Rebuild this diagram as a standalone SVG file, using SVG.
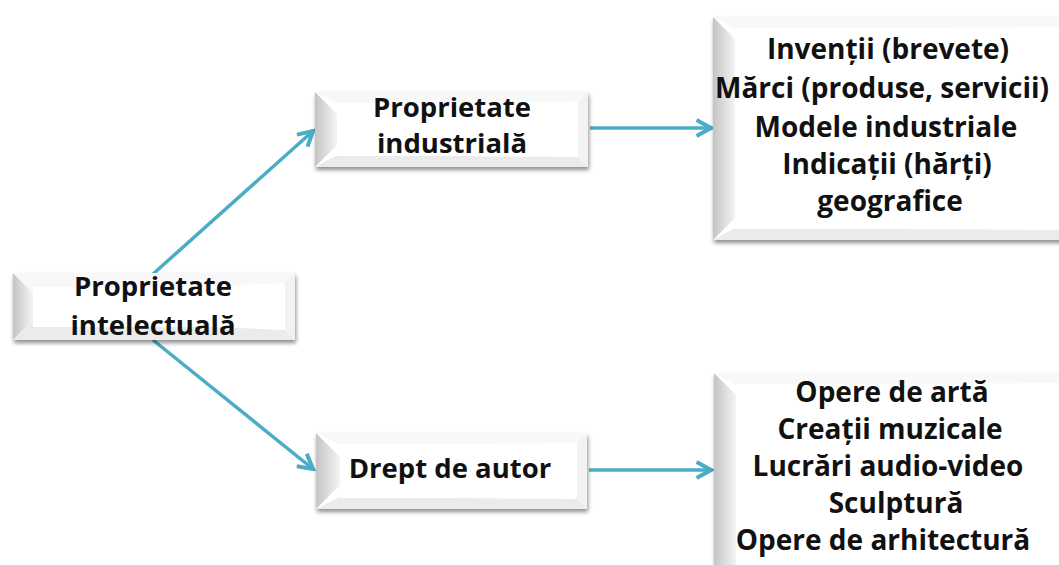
<svg xmlns="http://www.w3.org/2000/svg" width="1059" height="565" viewBox="0 0 1059 565">
<defs>
<style>
.t{font-family:"Open Sans","Noto Sans","Liberation Sans",sans-serif;font-weight:bold;font-size:27.5px;fill:#111;text-anchor:middle}
.l{font-size:28px}
.c{stroke:#4BACC6;stroke-width:3.5;fill:none}
.face{fill:#fff}
.bl{fill:url(#gl)}
.bt{fill:#f8f8f8}
.br{fill:#f2f2f2}
.bb{fill:#ebebeb}
</style>
<linearGradient id="gl" x1="0" y1="0" x2="1" y2="0">
<stop offset="0" stop-color="#c4c4c4"/>
<stop offset="1" stop-color="#f4f4f4"/>
</linearGradient>
<filter id="sh" x="-10%" y="-10%" width="120%" height="130%">
<feGaussianBlur in="SourceAlpha" stdDeviation="2"/>
<feOffset dx="1" dy="3" result="b"/>
<feComponentTransfer><feFuncA type="linear" slope="0.45"/></feComponentTransfer>
<feMerge><feMergeNode/><feMergeNode in="SourceGraphic"/></feMerge>
</filter>
<marker id="ah" viewBox="0 0 12 12" refX="10" refY="6" markerWidth="5.5" markerHeight="5.5" orient="auto" markerUnits="strokeWidth">
<path d="M1,1 L10,6 L1,11" fill="none" stroke="#4BACC6" stroke-width="2.5" stroke-linejoin="miter"/>
</marker>
</defs>
<rect width="1059" height="565" fill="#fff"/>
<g id="connectors">
<line class="c" x1="153" y1="274" x2="313" y2="131" marker-end="url(#ah)"/>
<line class="c" x1="153" y1="340" x2="313" y2="469" marker-end="url(#ah)"/>
<line class="c" x1="590" y1="128" x2="711" y2="128" marker-end="url(#ah)"/>
<line class="c" x1="589" y1="470" x2="711" y2="470" marker-end="url(#ah)"/>
</g>
<g id="n_intelectuala">
<g filter="url(#sh)">
<rect class="face" x="13" y="273" width="282" height="67"/>
</g>
<polygon class="bl" points="13,273 33,293 33,320 13,340"/>
<polygon class="bt" points="13,273 295,273 285,283 33,293"/>
<polygon class="br" points="295,273 295,340 285,330 285,283"/>
<polygon class="bb" points="13,340 295,340 285,330 33,320"/>
<rect class="face" x="33" y="287" width="252" height="40"/>
<text class="t" x="153" y="296">Proprietate</text>
<text class="t" x="153" y="335">intelectuală</text>
</g>
<g id="n_industriala">
<g filter="url(#sh)">
<rect class="face" x="315" y="92" width="273" height="75"/>
</g>
<polygon class="bl" points="315,92 337,114 337,145 315,167"/>
<polygon class="bt" points="315,92 588,92 578,102 337,104"/>
<polygon class="br" points="588,92 588,167 578,157 578,102"/>
<polygon class="bb" points="315,167 588,167 578,157 337,155"/>
<rect class="face" x="337" y="103" width="241" height="53"/>
<text class="t" x="452" y="117">Proprietate</text>
<text class="t" x="452" y="153">industrială</text>
</g>
<g id="n_drept">
<g filter="url(#sh)">
<rect class="face" x="316" y="433" width="271" height="76"/>
</g>
<polygon class="bl" points="316,433 340,457 340,485 316,509"/>
<polygon class="bt" points="316,433 587,433 577,443 340,445"/>
<polygon class="br" points="587,433 587,509 577,499 577,443"/>
<polygon class="bb" points="316,509 587,509 577,499 340,497"/>
<rect class="face" x="340" y="444" width="237" height="54"/>
<text class="t" x="450" y="478">Drept de autor</text>
</g>
<g id="n_industriala_list">
<g filter="url(#sh)">
<rect class="face" x="713" y="17" width="360" height="223"/>
</g>
<polygon class="bl" points="713,17 735,39 735,218 713,240"/>
<polygon class="bt" points="713,17 1073,17 1063,27 735,29"/>
<polygon class="bb" points="713,240 1073,240 1063,230 735,228"/>
<rect class="face" x="735" y="28" width="330" height="201"/>
<text class="t l" x="888" y="59">Invenții (brevete)</text>
<text class="t l" x="882" y="98">Mărci (produse, servicii)</text>
<text class="t l" x="886" y="137">Modele industriale</text>
<text class="t l" x="887" y="174">Indicații (hărți)</text>
<text class="t l" x="890" y="211">geografice</text>
</g>
<g id="n_drept_list">
<g filter="url(#sh)">
<rect class="face" x="714" y="373" width="360" height="220"/>
</g>
<polygon class="bl" points="714,373 736,395 736,580 714,600"/>
<polygon class="bt" points="714,373 1074,373 1064,383 736,385"/>
<rect class="face" x="736" y="384" width="330" height="200"/>
<text class="t l" x="892" y="402">Opere de artă</text>
<text class="t l" x="890" y="439">Creații muzicale</text>
<text class="t l" x="888" y="476">Lucrări audio-video</text>
<text class="t l" x="896" y="513">Sculptură</text>
<text class="t l" x="883" y="550">Opere de arhitectură</text>
</g>
</svg>
